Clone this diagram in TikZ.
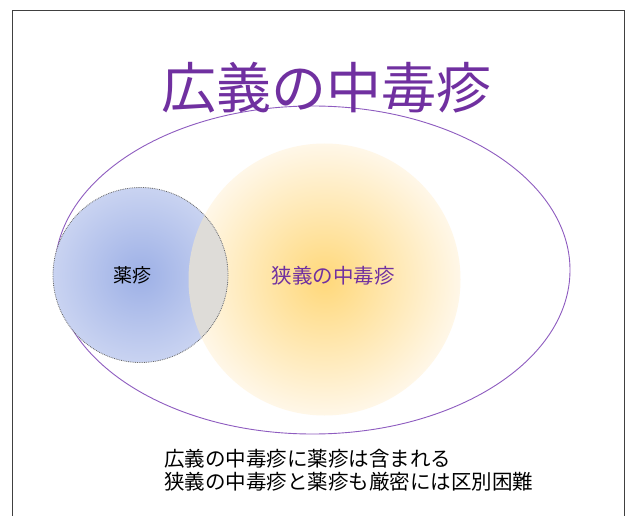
\documentclass[tikz,border=0pt]{standalone}
\usepackage{fontspec}
\setmainfont{Noto Sans CJK JP}
\usetikzlibrary{shapes.geometric}
\definecolor{titlepurple}{HTML}{7030A0}
\definecolor{ellpurple}{HTML}{8E5CC0}
\definecolor{blueC}{HTML}{9DB0E6}
\definecolor{blueE}{HTML}{C9D3F1}
\definecolor{orangeC}{HTML}{FFD87A}
\definecolor{orangeE}{HTML}{FFF7E8}
\definecolor{overlapgray}{HTML}{DEDCD8}
\tikzset{
  framestyle/.style={draw=black!75, line width=1bp},
  ttl/.style={text=titlepurple, font=\fontsize{55bp}{60bp}\selectfont, inner sep=0},
  lbl/.style={font=\fontsize{19bp}{22bp}\selectfont, inner sep=0},
  note/.style={font=\fontsize{20.5bp}{23bp}\selectfont, inner sep=0, align=left, anchor=north west},
}
\begin{document}
\begin{tikzpicture}[x=1bp,y=-1bp]
\useasboundingbox (0,0) rectangle (630,516);
\fill[white] (0,0) rectangle (630,516);
% frame
\coordinate (fbl) at (12,517);
\coordinate (ftl) at (12,11);
\coordinate (ftr) at (624,11);
\coordinate (fbr) at (624,517);
\draw[framestyle] (fbl) -- (ftl) -- (ftr) -- (fbr);
% outer ellipse
\node[ellipse, draw=ellpurple, line width=0.9bp, minimum width=515bp, minimum height=328bp, inner sep=0] (wide) at (312.5,270) {};
% orange circle
\shade[inner color=orangeC, outer color=orangeE] (324.5,279.5) circle[radius=136];
% blue circle
\shade[inner color=blueC, outer color=blueE] (140.5,275) circle[radius=87.5];
% overlap
\begin{scope}
\clip (324.5,279.5) circle[radius=136];
\fill[overlapgray] (140.5,275) circle[radius=87.5];
\end{scope}
\draw[black!60, densely dotted, line width=0.8bp] (140.5,275) circle[radius=87.5];
% texts
\node[ttl] (title) at (326,88) {広義の中毒疹};
\node[lbl, text=black] (drug) at (132,275) {薬疹};
\node[lbl, text=titlepurple, font=\fontsize{20.5bp}{22bp}\selectfont] (narrow) at (333,276) {狭義の中毒疹};
\node[note] (note) at (164,449) {広義の中毒疹に薬疹は含まれる\\狭義の中毒疹と薬疹も厳密には区別困難};
\end{tikzpicture}
\end{document}
